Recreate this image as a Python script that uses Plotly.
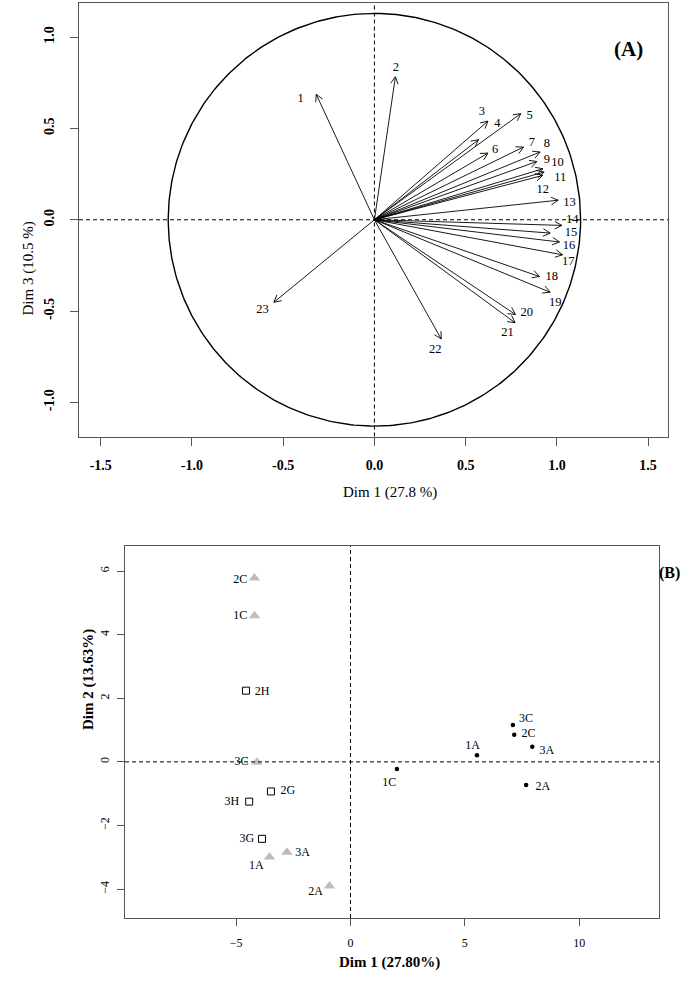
import numpy as np
import plotly.graph_objects as go

# ---------------- Panel A data (variables factor map) ----------------
var_names = [str(i) for i in range(1, 24)]
dim1 = [-0.319, 0.115, 0.622, 0.570, 0.802, 0.622, 0.817, 0.908, 0.890, 0.923,
        0.930, 0.923, 1.007, 1.027, 0.963, 1.014, 1.031, 0.905, 0.963, 0.773,
        0.771, 0.366, -0.551]
dim3 = [0.687, 0.783, 0.540, 0.438, 0.581, 0.365, 0.398, 0.371, 0.319, 0.279,
        0.261, 0.243, 0.107, -0.031, -0.073, -0.122, -0.192, -0.311, -0.397, -0.519,
        -0.564, -0.653, -0.452]
circle_radius = 1.13

# label offsets (layout, data units of panel A)
lab_dx = [-0.085, 0.003, -0.033, 0.104, 0.048, 0.040, 0.046, 0.037, 0.055, 0.080,
          0.088, 0.000, 0.062, 0.057, 0.114, 0.052, 0.032, 0.067, 0.028, 0.062,
          -0.042, -0.033, -0.062]
lab_dy = [-0.026, 0.046, 0.050, 0.088, -0.010, 0.015, 0.022, 0.042, 0.008, 0.033,
          -0.031, -0.077, -0.014, 0.031, 0.000, -0.023, -0.040, -0.003, -0.059, 0.009,
          -0.057, -0.059, -0.040]

# ---------------- Panel B data (individuals factor map) ----------------
tri_labels = ["2C", "1C", "3C", "3A", "1A", "2A"]
tri_x = [-4.20, -4.20, -4.09, -2.78, -3.54, -0.92]
tri_y = [5.78, 4.60, -0.01, -2.84, -2.99, -3.90]

sq_labels = ["2H", "2G", "3H", "3G"]
sq_x = [-4.57, -3.48, -4.43, -3.87]
sq_y = [2.24, -0.93, -1.25, -2.42]

dot_labels = ["3C", "2C", "3A", "1A", "1C", "2A"]
dot_x = [7.10, 7.16, 7.95, 5.53, 2.03, 7.68]
dot_y = [1.16, 0.85, 0.48, 0.21, -0.22, -0.73]

# label offsets (layout, data units of panel B)
tri_dx = [-0.62, -0.62, -0.68, 0.68, -0.58, -0.61]
tri_dy = [-0.06, 0.00, 0.00, -0.03, -0.27, -0.18]
sq_dx = [0.70, 0.74, -0.76, -0.66]
sq_dy = [-0.04, 0.02, -0.02, 0.00]
dot_dx = [0.58, 0.62, 0.64, -0.19, -0.34, 0.73]
dot_dy = [0.20, 0.02, -0.14, 0.28, -0.43, -0.05]

# ---------------- layout geometry ----------------
W, H = 700, 984


def px(x):
    return x / W


def py(y):
    return 1 - y / H


A_box = (79, 668, 3, 436.5)     # left, right, top, bottom (page px)
B_box = (125, 659, 546, 918)
A_xr = [-1.619, 1.609]
A_yr = [-1.187, 1.187]
B_xr = [-9.86, 13.49]
B_yr = [-4.91, 6.79]

FONT = "Liberation Serif, Times New Roman, serif"

fig = go.Figure()

# ---- panel A: circle
th = np.linspace(0, 2 * np.pi, 400)
fig.add_trace(go.Scatter(x=circle_radius * np.cos(th), y=circle_radius * np.sin(th),
                         mode="lines", line=dict(color="black", width=1.4),
                         hoverinfo="skip", showlegend=False, xaxis="x", yaxis="y"))

# ---- panel A: arrows (shafts + open heads)
sx, sy = [], []
hx, hy = [], []
kx = (A_box[1] - A_box[0]) / (A_xr[1] - A_xr[0])   # px per unit
ky = (A_box[3] - A_box[2]) / (A_yr[1] - A_yr[0])
head_len = 8.0
ang = np.deg2rad(28)
for x, y in zip(dim1, dim3):
    sx += [0, x, None]
    sy += [0, y, None]
    dx, dy = x * kx, y * ky
    L = np.hypot(dx, dy)
    ux, uy = dx / L, dy / L
    for s in (1, -1):
        c, sn = np.cos(s * ang), np.sin(s * ang)
        bx = -(ux * c - uy * sn) * head_len
        by = -(ux * sn + uy * c) * head_len
        hx += [x + bx / kx, x, None]
        hy += [y + by / ky, y, None]
fig.add_trace(go.Scatter(x=sx, y=sy, mode="lines", line=dict(color="black", width=0.9),
                         hoverinfo="skip", showlegend=False, xaxis="x", yaxis="y"))
fig.add_trace(go.Scatter(x=hx, y=hy, mode="lines", line=dict(color="black", width=0.9),
                         hoverinfo="skip", showlegend=False, xaxis="x", yaxis="y"))

fig.add_trace(go.Scatter(x=[a + b for a, b in zip(dim1, lab_dx)],
                         y=[a + b for a, b in zip(dim3, lab_dy)],
                         text=var_names, mode="text", textposition="middle center",
                         textfont=dict(family=FONT, size=12.5, color="black"),
                         hoverinfo="skip", showlegend=False, xaxis="x", yaxis="y"))

# ---- panel B markers
fig.add_trace(go.Scatter(x=tri_x, y=tri_y, mode="markers",
                         marker=dict(symbol="triangle-up", size=10, color="#bdbdbd"),
                         showlegend=False, xaxis="x2", yaxis="y2"))
fig.add_trace(go.Scatter(x=sq_x, y=sq_y, mode="markers",
                         marker=dict(symbol="square-open", size=7, color="black",
                                     line=dict(width=1)),
                         showlegend=False, xaxis="x2", yaxis="y2"))
fig.add_trace(go.Scatter(x=dot_x, y=dot_y, mode="markers",
                         marker=dict(symbol="circle", size=4.5, color="black"),
                         showlegend=False, xaxis="x2", yaxis="y2"))
lbx = ([a + b for a, b in zip(tri_x, tri_dx)] + [a + b for a, b in zip(sq_x, sq_dx)]
       + [a + b for a, b in zip(dot_x, dot_dx)])
lby = ([a + b for a, b in zip(tri_y, tri_dy)] + [a + b for a, b in zip(sq_y, sq_dy)]
       + [a + b for a, b in zip(dot_y, dot_dy)])
fig.add_trace(go.Scatter(x=lbx, y=lby, text=tri_labels + sq_labels + dot_labels,
                         mode="text", textposition="middle center",
                         textfont=dict(family=FONT, size=12, color="black"),
                         hoverinfo="skip", showlegend=False, xaxis="x2", yaxis="y2"))

axcol = "#555555"
common = dict(showgrid=False, zeroline=False, showline=True, mirror=True,
              linecolor=axcol, linewidth=1.2, ticks="outside", tickcolor=axcol,
              tickwidth=1)

fig.update_layout(
    width=W, height=H, margin=dict(l=0, r=0, t=0, b=0),
    paper_bgcolor="white", plot_bgcolor="white",
    xaxis=dict(domain=[px(A_box[0]), px(A_box[1])], range=A_xr, anchor="y",
               tickvals=[-1.5, -1.0, -0.5, 0.0, 0.5, 1.0, 1.5],
               ticktext=["-1.5", "-1.0", "-0.5", "0.0", "0.5", "1.0", "1.5"],
               ticklen=8, ticklabelstandoff=8,
               tickfont=dict(family=FONT, size=14, color="black", weight="bold"), **common),
    yaxis=dict(domain=[py(A_box[3]), py(A_box[2])], range=A_yr, anchor="x",
               tickvals=[-1.0, -0.5, 0.0, 0.5, 1.0],
               ticktext=["-1.0", "-0.5", "0.0", "0.5", "1.0"],
               tickangle=-90, ticklen=8, ticklabelstandoff=10,
               tickfont=dict(family=FONT, size=14, color="black", weight="bold"), **common),
    xaxis2=dict(domain=[px(B_box[0]), px(B_box[1])], range=B_xr, anchor="y2",
                tickvals=[-5, 0, 5, 10], ticklen=7, ticklabelstandoff=6,
                tickfont=dict(family=FONT, size=12, color="black"), **common),
    yaxis2=dict(domain=[py(B_box[3]), py(B_box[2])], range=B_yr, anchor="x2",
                tickvals=[-4, -2, 0, 2, 4, 6], tickangle=-90, ticklen=7,
                ticklabelstandoff=3,
                tickfont=dict(family=FONT, size=12, color="black"), **common),
    shapes=[
        dict(type="line", xref="x", yref="y domain", x0=0, x1=0, y0=0, y1=1,
             line=dict(color="black", width=1, dash="4px,3px")),
        dict(type="line", xref="x domain", yref="y", x0=0, x1=1, y0=0, y1=0,
             line=dict(color="black", width=1, dash="4px,3px")),
        dict(type="line", xref="x2", yref="y2 domain", x0=0, x1=0, y0=0, y1=1,
             line=dict(color="black", width=1, dash="4px,3px")),
        dict(type="line", xref="x2 domain", yref="y2", x0=0, x1=1, y0=0, y1=0,
             line=dict(color="black", width=1, dash="4px,3px")),
    ],
    annotations=[
        dict(text="(A)", x=px(645), y=py(35), xref="paper", yref="paper",
             showarrow=False, font=dict(family=FONT, size=21, color="black", weight="bold")),
        dict(text="(B)", x=px(682), y=py(573), xref="paper", yref="paper",
             showarrow=False, font=dict(family=FONT, size=16, color="black", weight="bold")),
        dict(text="Dim 1 (27.8 %)", x=px(390), y=py(492), xref="paper", yref="paper",
             showarrow=False, font=dict(family=FONT, size=15, color="black")),
        dict(text="Dim 3 (10.5 %)", x=px(17), y=py(220), xref="paper", yref="paper",
             showarrow=False, textangle=-90, font=dict(family=FONT, size=15, color="black")),
        dict(text="Dim 1 (27.80%)", x=px(389), y=py(973), xref="paper", yref="paper",
             showarrow=False, font=dict(family=FONT, size=15, color="black", weight="bold")),
        dict(text="Dim 2 (13.63%)", x=px(78), y=py(732), xref="paper", yref="paper",
             showarrow=False, textangle=-90, font=dict(family=FONT, size=15, color="black", weight="bold")),
    ],
)

fig.write_html("out.html",
               config={"displayModeBar": False},
               post_script="document.body.style.margin='0px';"
                           "document.body.style.overflow='hidden';")
